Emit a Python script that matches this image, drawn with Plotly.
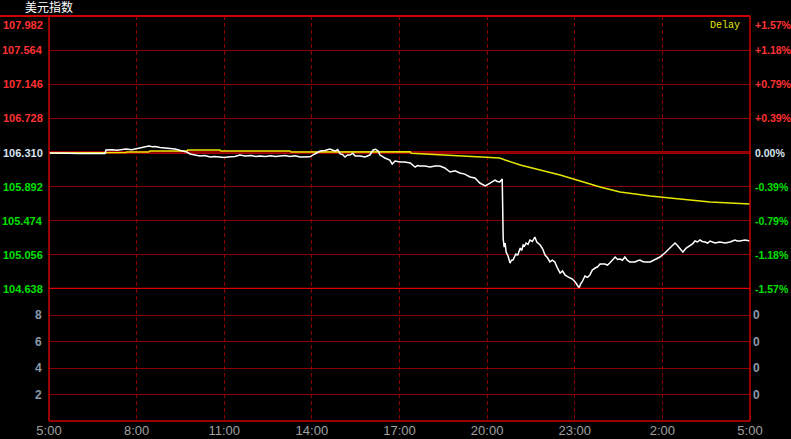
import plotly.graph_objects as go
from plotly.subplots import make_subplots

TITLE = "美元指数"
BASE = 106.310

price_times = ["05:00","05:20","05:40","06:00","06:20","06:40","06:55","06:57","07:10","07:20","07:38","07:50",
 "08:05","08:15","08:25","08:32","08:38","08:48","08:58","09:10","09:19","09:30","09:35","09:43","09:50","10:00",
 "10:10","10:20","10:31","10:40","10:51","11:00","11:12","11:22","11:32","11:43","11:55","12:05","12:13","12:25",
 "12:35","12:45","12:55","13:05","13:15","13:25","13:36","13:46","13:56","14:06","14:17","14:27","14:37","14:42",
 "14:48","14:53","14:58","15:03","15:08","15:13","15:18","15:24","15:29","15:39","15:49","15:59","16:06","16:11",
 "16:16","16:20","16:30","16:40","16:45","16:51","17:01","17:11","17:22","17:32","17:37","17:42","17:52","18:03",
 "18:13","18:23","18:33","18:44","18:54","19:04","19:14","19:25","19:35","19:45","19:56","20:06","20:16","20:21",
 "20:26","20:31","20:33","20:35","20:37","20:39","20:43","20:47","20:50","20:53","20:56","20:59","21:03","21:08",
 "21:11","21:14","21:17","21:20","21:24","21:28","21:33","21:38","21:42","21:49","21:54","21:59","22:04","22:09",
 "22:14","22:19","22:24","22:30","22:35","22:40","22:45","22:50","22:55","23:01","23:05","23:09","23:12","23:15",
 "23:21","23:26","23:31","23:36","23:42","23:47","23:52","00:02","00:07","00:12","00:23","00:28","00:33","00:38",
 "00:43","00:48","00:53","01:04","01:09","01:14","01:19","01:24","01:35","01:40","01:45","01:55","02:05","02:10",
 "02:16","02:26","02:31","02:36","02:42","02:49","02:57","03:02","03:07","03:12","03:17","03:22","03:28","03:33",
 "03:38","03:43","03:48","03:58","04:09","04:19","04:29","04:34","04:39","04:50","05:00"]
price_values = [106.304,106.298,106.300,106.298,106.296,106.300,106.298,106.341,106.345,106.337,106.353,106.345,
 106.365,106.370,106.390,106.380,106.382,106.372,106.365,106.360,106.353,106.335,106.328,106.316,106.292,106.282,
 106.267,106.272,106.255,106.262,106.255,106.250,106.257,106.262,106.279,106.267,106.272,106.262,106.267,106.260,
 106.270,106.262,106.267,106.272,106.262,106.270,106.255,106.253,106.257,106.292,106.328,106.335,106.353,106.340,
 106.328,106.345,106.292,106.285,106.255,106.280,106.279,106.300,106.267,106.267,106.255,106.279,106.341,106.350,
 106.328,106.279,106.243,106.218,106.169,106.206,106.194,106.194,106.181,106.132,106.150,106.145,106.145,106.132,
 106.145,106.145,106.120,106.071,106.085,106.059,106.045,106.010,105.998,105.936,105.900,105.936,105.973,105.955,
 105.949,105.985,105.250,105.152,105.200,105.091,105.042,104.956,104.990,104.993,105.040,105.067,105.054,105.140,
 105.110,105.177,105.165,105.201,105.185,105.238,105.220,105.275,105.214,105.177,105.130,105.054,105.020,104.969,
 104.990,104.969,104.900,104.834,104.860,104.810,104.790,104.773,104.760,104.724,104.690,104.650,104.700,104.724,
 104.797,104.780,104.810,104.870,104.895,104.910,104.944,104.944,104.930,104.956,105.030,105.000,105.005,104.990,
 105.030,104.990,104.969,104.969,104.985,104.993,104.975,104.969,104.969,104.985,104.993,105.030,105.079,105.110,
 105.140,105.201,105.170,105.140,105.091,105.140,105.177,105.190,105.226,105.214,105.238,105.220,105.214,105.200,
 105.226,105.214,105.201,105.214,105.201,105.214,105.238,105.226,105.226,105.238,105.226]

avg_times = ["05:00","06:55","06:57","07:38","07:40","08:25","08:27","09:43","09:45","10:51","10:53","13:15","13:17",
 "16:20","16:22","17:22","17:24","18:23","19:45","20:26","20:37","21:08","21:49","22:30","23:11","23:52","00:33",
 "01:35","02:36","03:38","05:00"]
avg_values = [106.304,106.304,106.310,106.310,106.316,106.316,106.328,106.328,106.341,106.341,106.328,106.328,106.316,
 106.316,106.320,106.320,106.300,106.280,106.255,106.243,106.218,106.157,106.096,106.034,105.961,105.887,105.826,
 105.777,105.740,105.704,105.679]

price_levels = [107.982,107.564,107.146,106.728,106.310,105.892,105.474,105.056,104.638]
price_labels = ["107.982","107.564","107.146","106.728","106.310","105.892","105.474","105.056","104.638"]
pct_labels = ["+1.57%","+1.18%","+0.79%","+0.39%","0.00%","-0.39%","-0.79%","-1.18%","-1.57%"]
vol_levels = [8, 6, 4, 2]
vol_labels = ["8", "6", "4", "2"]
vol_right_labels = ["0", "0", "0", "0"]
x_tick_times = ["05:00","08:00","11:00","14:00","17:00","20:00","23:00","02:00","05:00"]
x_tick_text = ["5:00","8:00","11:00","14:00","17:00","20:00","23:00","2:00","5:00"]


def to_minutes(times):
    """Minutes elapsed since the 05:00 session start (rolls over midnight)."""
    out, day, prev = [], 0, -1
    for t in times:
        h, m = map(int, t.split(":"))
        mins = h * 60 + m
        if mins < prev:
            day += 1
        prev = mins
        out.append(mins + day * 1440 - 300)
    return out


xp = to_minutes(price_times)
xa = to_minutes(avg_times)
xt = to_minutes(x_tick_times)
xt[-1] = xt[0] + 1440
xrange_ = [xt[0], xt[-1]]

fig = make_subplots(rows=2, cols=1, shared_xaxes=True, vertical_spacing=0,
                    row_heights=[273 / 405, 132 / 405])

fig.add_trace(go.Scatter(x=xa, y=avg_values, mode="lines", line=dict(color="#e6e600", width=1.5),
                         hoverinfo="skip", showlegend=False), row=1, col=1)
fig.add_trace(go.Scatter(x=xp, y=price_values, mode="lines", line=dict(color="#ffffff", width=1.5),
                         showlegend=False), row=1, col=1)

GRID = "#8a0000"
XFONT = dict(family="Liberation Sans", size=13, color="#a0a0a0")
for ax in ("xaxis", "xaxis2"):
    fig.layout[ax].update(range=xrange_, tickmode="array", tickvals=xt, ticktext=x_tick_text,
                          showgrid=True, gridcolor=GRID, griddash="4px,3px", gridwidth=1, zeroline=False,
                          showline=False, ticks="", tickfont=XFONT, ticklabeloverflow="allow",
                          automargin=False)
fig.layout.xaxis.showticklabels = False
fig.layout.xaxis2.showticklabels = True

fig.update_yaxes(range=[price_levels[-1], price_levels[0]], tickvals=price_levels, showticklabels=False,
                 showgrid=True, gridcolor=GRID, gridwidth=1, zeroline=False, automargin=False, row=1, col=1)
fig.update_yaxes(range=[0, 10], tickvals=vol_levels, showticklabels=False, showgrid=True, gridcolor=GRID,
                 gridwidth=1, zeroline=False, automargin=False, row=2, col=1)

RED = "#cc0000"
shapes = [
    dict(type="line", xref="paper", yref="y", x0=0, x1=1, y0=BASE, y1=BASE, line=dict(color="#a00000", width=3), layer="between"),
    dict(type="line", xref="paper", yref="y", x0=0, x1=1, y0=price_levels[-1], y1=price_levels[-1], line=dict(color="#dd0000", width=2.5)),
    dict(type="line", xref="paper", yref="paper", x0=-49 / 701, x1=1, y0=1, y1=1, line=dict(color=RED, width=2)),
    dict(type="line", xref="paper", yref="paper", x0=0, x1=0, y0=0, y1=1, line=dict(color=RED, width=1.5)),
    dict(type="line", xref="paper", yref="paper", x0=1, x1=1, y0=0, y1=1, line=dict(color=RED, width=1.5)),
    dict(type="line", xref="paper", yref="paper", x0=0, x1=1, y0=0, y1=0, line=dict(color=RED, width=1.5)),
]

ann = []
for lvl, lab, pct in zip(price_levels, price_labels, pct_labels):
    if lvl > BASE + 1e-9:
        col = "#ff3232"
    elif lvl < BASE - 1e-9:
        col = "#00e000"
    else:
        col = "#d8e4f0"
    top = lvl == price_levels[0]
    common = dict(yref="y", y=lvl, showarrow=False, yanchor="top" if top else "middle",
                  yshift=-1 if top else 0)
    ann.append(dict(xref="paper", x=0, xanchor="right", xshift=-4, text="<b>%s</b>" % lab,
                    font=dict(family="Liberation Sans", size=11, color=col), **common))
    ann.append(dict(xref="paper", x=1, xanchor="left", xshift=3, text="<b>%s</b>" % pct,
                    font=dict(family="Liberation Sans", size=10.5, color=col), **common))

for lvl, lab, rl in zip(vol_levels, vol_labels, vol_right_labels):
    ann.append(dict(xref="paper", x=0, xanchor="right", xshift=-5, yref="y2", y=lvl, showarrow=False,
                    text="<b>%s</b>" % lab, font=dict(family="Liberation Sans", size=12, color="#8c98a8")))
    ann.append(dict(xref="paper", x=1, xanchor="left", xshift=1, yref="y2", y=lvl, showarrow=False,
                    text="<b>%s</b>" % rl, font=dict(family="Liberation Sans", size=12, color="#8c98a8")))

ann.append(dict(xref="paper", yref="paper", x=-26 / 701, y=1, yanchor="bottom", xanchor="left", yshift=-1,
                showarrow=False, text=TITLE, font=dict(family="Noto Sans CJK SC", size=12, color="#ffffff")))
ann.append(dict(xref="paper", yref="paper", x=1, y=1, yanchor="top", xanchor="right", xshift=-8, yshift=-2,
                showarrow=False, text="Delay", font=dict(family="Liberation Mono", size=10, color="#e6e600")))

fig.update_layout(width=791, height=439, margin=dict(l=49, r=41, t=16, b=18, autoexpand=False),
                  paper_bgcolor="#000000", plot_bgcolor="#000000", shapes=shapes, annotations=ann,
                  showlegend=False, hovermode=False)

fig.write_html("out.html", config={"displayModeBar": False},
               post_script="document.body.style.margin='0px';document.body.style.background='#000';")
